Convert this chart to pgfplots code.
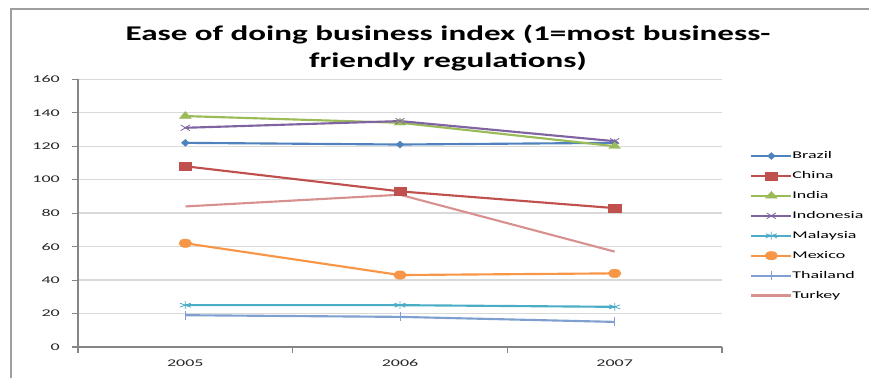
\documentclass[border=0pt]{standalone}
\usepackage{fontspec}
\setmainfont{Carlito}[FakeStretch=1.75]
\newfontfamily\titlefont{Carlito}[FakeStretch=1.58]
\usepackage{pgfplots}
\pgfplotsset{compat=1.18}
\definecolor{cBrazil}{HTML}{4F81BD}
\definecolor{cChina}{HTML}{C0504D}
\definecolor{cIndia}{HTML}{9BBB59}
\definecolor{cIndonesia}{HTML}{8064A2}
\definecolor{cMalaysia}{HTML}{4BACC6}
\definecolor{cMexico}{HTML}{F79646}
\definecolor{cThailand}{HTML}{7F9FD0}
\definecolor{cTurkey}{HTML}{D79290}
\definecolor{gridc}{HTML}{D9D9D9}
\definecolor{axisc}{HTML}{868686}
\begin{document}
\begin{tikzpicture}
\path[use as bounding box] (0,0) rectangle (651.75pt,283.5pt);
\draw[axisc!80, line width=0.8pt] (8.25pt,0) -- (8.25pt,276.75pt) -- (651.75pt,276.75pt);
\node[font=\titlefont\bfseries\fontsize{15.7}{20.5}\selectfont, align=center, anchor=north, inner sep=0pt]
  at (336pt,265pt) {Ease of doing business index (1=most business-\\friendly regulations)};
\begin{axis}[
  at={(58.5pt,23.25pt)}, anchor=south west,
  scale only axis, width=483pt, height=200.8pt,
  xmin=-0.5, xmax=2.5, ymin=0, ymax=160,
  xtick={0,1,2}, xticklabels={2005,2006,2007},
  minor xtick={-0.5,0.5,1.5,2.5},
  ytick={0,20,...,160},
  /pgf/number format/assume math mode=true,
  tick align=outside,
  major tick length=4.5pt, minor tick length=4.5pt,
  major x tick style={draw=none},
  minor x tick style={draw=axisc, line width=0.8pt},
  major y tick style={draw=axisc, line width=0.8pt},
  axis x line*=bottom, axis y line*=left,
  axis line style={draw=axisc, line width=0.8pt, -},
  ymajorgrids, major grid style={draw=gridc, line width=1pt},
  tick label style={font=\fontsize{7.7}{9}\selectfont, text=black!85, inner sep=0pt},
  yticklabel style={xshift=-9pt},
  xticklabel style={yshift=-5pt},
  every axis plot/.append style={line width=1.6pt},
  legend image code/.code={\draw[mark repeat=2,mark phase=2] plot coordinates {(0pt,0pt) (15pt,0pt) (30pt,0pt)};},
  legend style={at={(1.0435,0.733)}, anchor=north west, draw=none, fill=none, inner sep=0pt,
    font=\fontsize{7.7}{9}\selectfont, row sep=7.45pt,
    nodes={inner sep=0pt, text height=5.8pt, text depth=1.7pt, anchor=west, xshift=2pt}},
  legend cell align=left,
]
\addplot[color=cBrazil, mark=diamond*, mark size=2.6pt, mark options={xscale=1.5, solid, line width=0.3pt}] coordinates {(0,122) (1,121) (2,122)};
\addlegendentry{Brazil}
\addplot[color=cChina, mark=square*, mark size=2.9pt, mark options={xscale=1.6, solid, line width=0.3pt}] coordinates {(0,108) (1,93) (2,83)};
\addlegendentry{China}
\addplot[color=cIndia, mark=triangle*, mark size=3.4pt, mark options={xscale=1.5, solid, line width=0.3pt}] coordinates {(0,138) (1,134) (2,120)};
\addlegendentry{India}
\addplot[color=cIndonesia, mark=x, mark size=3pt, mark options={xscale=1.6, solid, line width=0.6pt}] coordinates {(0,131) (1,135) (2,123)};
\addlegendentry{Indonesia}
\addplot[color=cMalaysia, mark=asterisk, mark size=3pt, mark options={xscale=1.6, solid, line width=0.6pt}] coordinates {(0,25) (1,25) (2,24)};
\addlegendentry{Malaysia}
\addplot[color=cMexico, mark=*, mark size=3.2pt, mark options={xscale=1.5, solid, line width=0.3pt}] coordinates {(0,62) (1,43) (2,44)};
\addlegendentry{Mexico}
\addplot[color=cThailand, mark=|, mark size=3.3pt, mark options={solid, line width=0.6pt}] coordinates {(0,19) (1,18) (2,15)};
\addlegendentry{Thailand}
\addplot[color=cTurkey, no marks] coordinates {(0,84) (1,91) (2,57)};
\addlegendentry{Turkey}
\end{axis}
\end{tikzpicture}
\end{document}
